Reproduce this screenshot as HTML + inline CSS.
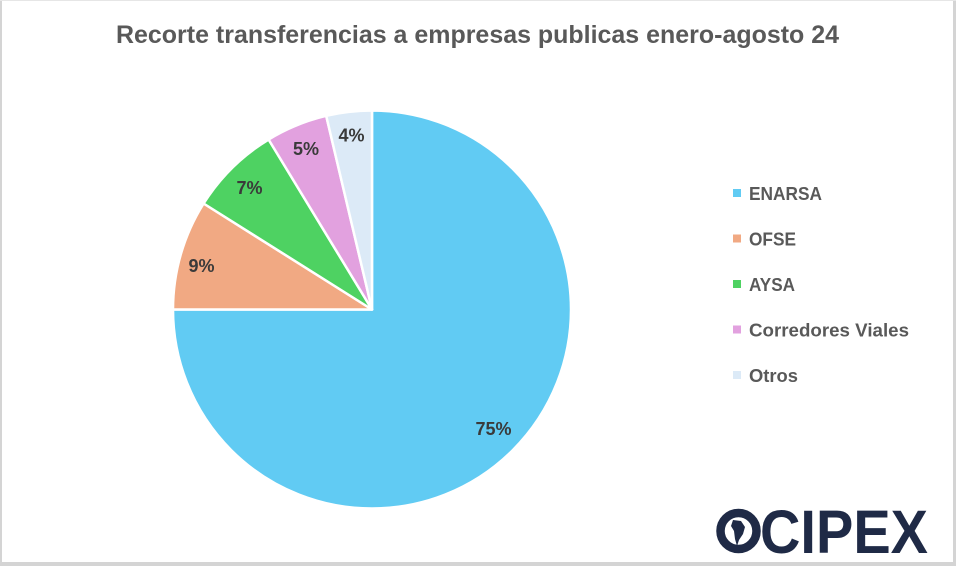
<!DOCTYPE html>
<html><head><meta charset="utf-8"><style>
html,body{margin:0;padding:0;background:#fff;}
svg{display:block;}
</style></head><body>
<svg width="956" height="566" viewBox="0 0 956 566" xmlns="http://www.w3.org/2000/svg">
<rect x="0" y="0" width="956" height="566" fill="#ffffff"/>
<rect x="0" y="0" width="2" height="566" fill="#d4d4d4"/>
<rect x="953" y="0" width="3" height="566" fill="#d4d4d4"/>
<rect x="0" y="562" width="956" height="4" fill="#d4d4d4"/>
<rect x="0" y="0" width="956" height="1" fill="#e6e6e6"/>
<text x="116" y="43" font-family="Liberation Sans, sans-serif" font-weight="bold" font-size="25" fill="#595959" textLength="723" lengthAdjust="spacingAndGlyphs">Recorte transferencias a empresas publicas enero-agosto 24</text>
<g stroke="#ffffff" stroke-width="2.5" stroke-linejoin="round">
<path d="M372,309.5 L372,110.5 A199,199 0 1 1 173,309.5 Z" fill="#61CBF3"/>
<path d="M372,309.5 L173,309.5 A199,199 0 0 1 203.6,203.5 Z" fill="#F1A983"/>
<path d="M372,309.5 L203.6,203.5 A199,199 0 0 1 268.6,139.5 Z" fill="#4ED262"/>
<path d="M372,309.5 L268.6,139.5 A199,199 0 0 1 326.2,115.8 Z" fill="#E2A1DF"/>
<path d="M372,309.5 L326.2,115.8 A199,199 0 0 1 372,110.5 Z" fill="#DCEAF7"/>
</g>
<g font-family="Liberation Sans, sans-serif" font-weight="bold" font-size="18" fill="#3a3a3a" text-anchor="middle">
<text x="351.5" y="141.5">4%</text>
<text x="306" y="155">5%</text>
<text x="249.5" y="194">7%</text>
<text x="201.5" y="272">9%</text>
<text x="493.5" y="435">75%</text>
</g>
<rect x="733" y="189" width="8" height="8" fill="#61CBF3"/>
<rect x="733" y="234.5" width="8" height="8" fill="#F1A983"/>
<rect x="733" y="280" width="8" height="8" fill="#4ED262"/>
<rect x="733" y="325.5" width="8" height="8" fill="#E2A1DF"/>
<rect x="733" y="371" width="8" height="8" fill="#DCEAF7"/>
<g font-family="Liberation Sans, sans-serif" font-weight="bold" font-size="18" fill="#595959">
<text x="749" y="200" textLength="73" lengthAdjust="spacingAndGlyphs">ENARSA</text>
<text x="749" y="245.5" textLength="47" lengthAdjust="spacingAndGlyphs">OFSE</text>
<text x="749" y="291" textLength="46" lengthAdjust="spacingAndGlyphs">AYSA</text>
<text x="749" y="336.5" textLength="160" lengthAdjust="spacingAndGlyphs">Corredores Viales</text>
<text x="749" y="382" textLength="49" lengthAdjust="spacingAndGlyphs">Otros</text>
</g>
<circle cx="738.5" cy="531" r="18" fill="none" stroke="#1F2A46" stroke-width="8.5"/>
<path d="M733,520 L741,521 L745,527 L743,534 L739,540 L737,546 L735,539 L734,531 L731,526 Z" fill="#1F2A46"/>
<text x="760" y="553" font-family="Liberation Sans, sans-serif" font-weight="bold" font-size="61" fill="#1F2A46" textLength="168" lengthAdjust="spacingAndGlyphs">CIPEX</text>
</svg>
</body></html>
